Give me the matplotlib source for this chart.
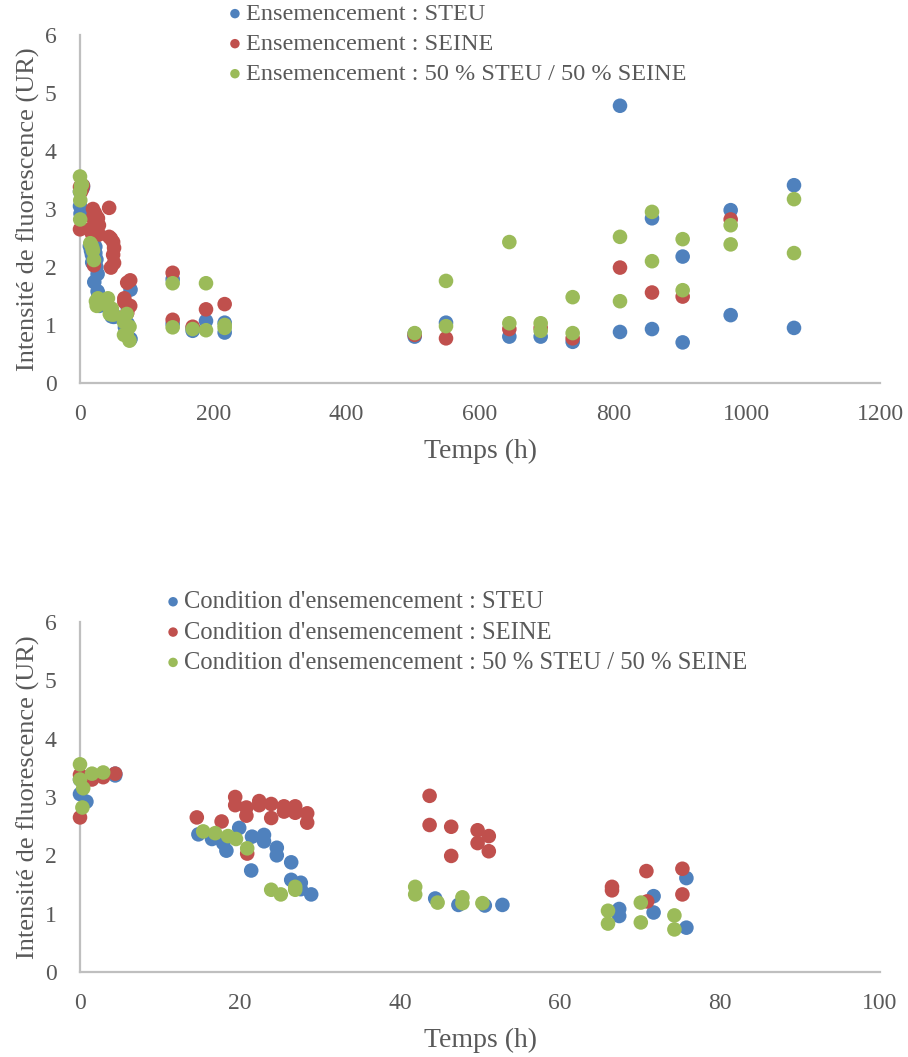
import matplotlib.pyplot as plt

# Fluorescence versus time for the three seeding conditions
temps_steu = [0, 0, 0.8, 1.5, 2.9, 4.4, 4.4, 14.8, 16.5, 17.9, 18.3, 19.9,
              21.4, 21.5, 23.0, 23.0, 24.6, 24.6, 26.4, 26.4, 27.6, 27.6, 28.9,
              44.4, 47.3, 50.6, 52.8, 67.4, 67.4, 71.7, 71.7, 75.8, 75.8,
              139, 139, 169, 169, 189, 217, 217, 502, 502, 549, 644, 691, 739,
              810, 810, 858, 858, 904, 904, 976, 976, 1071, 1071]
steu = [3.30, 3.05, 2.92, 3.35, 3.38, 3.40, 3.37, 2.36, 2.28, 2.21, 2.08, 2.47,
        1.74, 2.32, 2.35, 2.24, 2.13, 2.00, 1.88, 1.58, 1.53, 1.42, 1.33,
        1.26, 1.15, 1.14, 1.15, 1.08, 0.96, 1.30, 1.02, 1.61, 0.76,
        1.79, 1.02, 0.90, 0.95, 1.07, 1.04, 0.87, 0.80, 0.85, 1.04, 0.80, 0.80, 0.71,
        4.78, 0.88, 2.84, 0.93, 2.18, 0.70, 2.98, 1.17, 3.41, 0.95]

temps_seine = [0, 0, 1.5, 2.9, 4.4, 14.6, 17.7, 19.4, 19.4, 20.8, 20.8, 20.9,
               22.4, 22.4, 23.9, 23.9, 25.5, 25.5, 26.9, 26.9, 28.4, 28.4,
               43.7, 43.7, 46.4, 46.4, 49.7, 49.7, 51.1, 51.1, 66.5, 66.5,
               70.8, 70.9, 75.3, 75.3,
               139, 139, 169, 189, 217, 502, 549, 644, 691, 739, 810, 858, 904, 976]
seine = [2.65, 3.38, 3.30, 3.34, 3.40, 2.65, 2.58, 3.00, 2.86, 2.82, 2.68, 2.03,
         2.93, 2.86, 2.88, 2.64, 2.84, 2.75, 2.84, 2.73, 2.72, 2.56,
         3.02, 2.52, 2.49, 1.99, 2.43, 2.21, 2.33, 2.07, 1.46, 1.40,
         1.73, 1.21, 1.77, 1.33,
         1.90, 1.09, 0.97, 1.27, 1.36, 0.83, 0.77, 0.93, 0.95, 0.77, 1.99, 1.56, 1.49, 2.82]

temps_mix = [0, 0, 0.4, 0.3, 1.5, 2.9, 15.4, 16.9, 18.5, 19.5, 20.9,
             23.9, 25.1, 26.9, 26.9, 41.9, 41.9, 44.7, 47.8, 47.8, 50.3,
             66.0, 66.0, 70.1, 70.1, 74.3, 74.3,
             139, 139, 169, 189, 189, 217, 217, 502, 549, 549, 644, 644,
             691, 691, 739, 739, 810, 810, 858, 858, 904, 904, 976, 976, 1071, 1071]
mix = [3.56, 3.30, 3.15, 2.82, 3.40, 3.42, 2.41, 2.38, 2.33, 2.28, 2.12,
       1.41, 1.33, 1.46, 1.41, 1.46, 1.33, 1.19, 1.28, 1.18, 1.18,
       1.05, 0.83, 1.19, 0.85, 0.97, 0.73,
       1.72, 0.96, 0.93, 1.72, 0.91, 1.00, 0.95, 0.86, 1.76, 0.98, 2.43, 1.03,
       1.03, 0.90, 1.48, 0.86, 2.52, 1.41, 2.95, 2.10, 2.48, 1.60, 2.72, 2.39, 3.17, 2.24]

labels_top = ["Ensemencement : STEU", "Ensemencement : SEINE",
              "Ensemencement : 50 % STEU / 50 % SEINE"]
labels_bottom = ["Condition d'ensemencement : STEU",
                 "Condition d'ensemencement : SEINE",
                 "Condition d'ensemencement : 50 % STEU / 50 % SEINE"]
colors = ["#4F81BD", "#C0504D", "#9BBB59"]

plt.rcParams["font.family"] = ["Liberation Serif", "DejaVu Serif"]
TXT = "#595959"
GRID = "#BFBFBF"


def panel(ax, xmax, xstep, labels, anchor, legsize):
    series = [(temps_steu, steu), (temps_seine, seine), (temps_mix, mix)]
    pts = []
    for (t, v), c in zip(series, colors):
        pts.append(ax.scatter(t, v, s=110, color=c, edgecolors="none",
                              zorder=3, clip_on=False))
    ax.set_xlim(0, xmax)
    ax.set_ylim(0, 6)
    ax.set_xticks(range(0, xmax + 1, xstep))
    ax.set_yticks(range(0, 7))
    for side in ("top", "right"):
        ax.spines[side].set_visible(False)
    for side in ("left", "bottom"):
        ax.spines[side].set_color(GRID)
        ax.spines[side].set_linewidth(1.6)
    ax.tick_params(length=0, labelsize=17, colors=TXT, pad=15)
    ax.tick_params(axis="y", pad=17)
    ax.set_xlabel("Temps (h)", fontsize=20, color=TXT, labelpad=10)
    ax.set_ylabel("Intensité de fluorescence (UR)", fontsize=19, color=TXT, labelpad=3)
    leg = ax.legend(pts, labels, loc="upper left", bbox_to_anchor=anchor,
                    bbox_transform=ax.figure.transFigure, frameon=False,
                    markerscale=0.65, handletextpad=0.0, handlelength=0.9,
                    labelspacing=0.33, borderpad=0, borderaxespad=0,
                    fontsize=legsize)
    for txt in leg.get_texts():
        txt.set_color(TXT)


fig = plt.figure(figsize=(9.08, 10.57), dpi=100)
ax1 = fig.add_axes([80 / 908, 1 - 383 / 1057, 800 / 908, 348 / 1057])
ax2 = fig.add_axes([80 / 908, 1 - 972 / 1057, 800 / 908, 350 / 1057])

panel(ax1, 1200, 200, labels_top, (224 / 908, 1 - 3 / 1057), 17.5)
panel(ax2, 100, 20, labels_bottom, (162 / 908, 1 - 591 / 1057), 17.7)

fig.savefig("out.png", dpi=100)
